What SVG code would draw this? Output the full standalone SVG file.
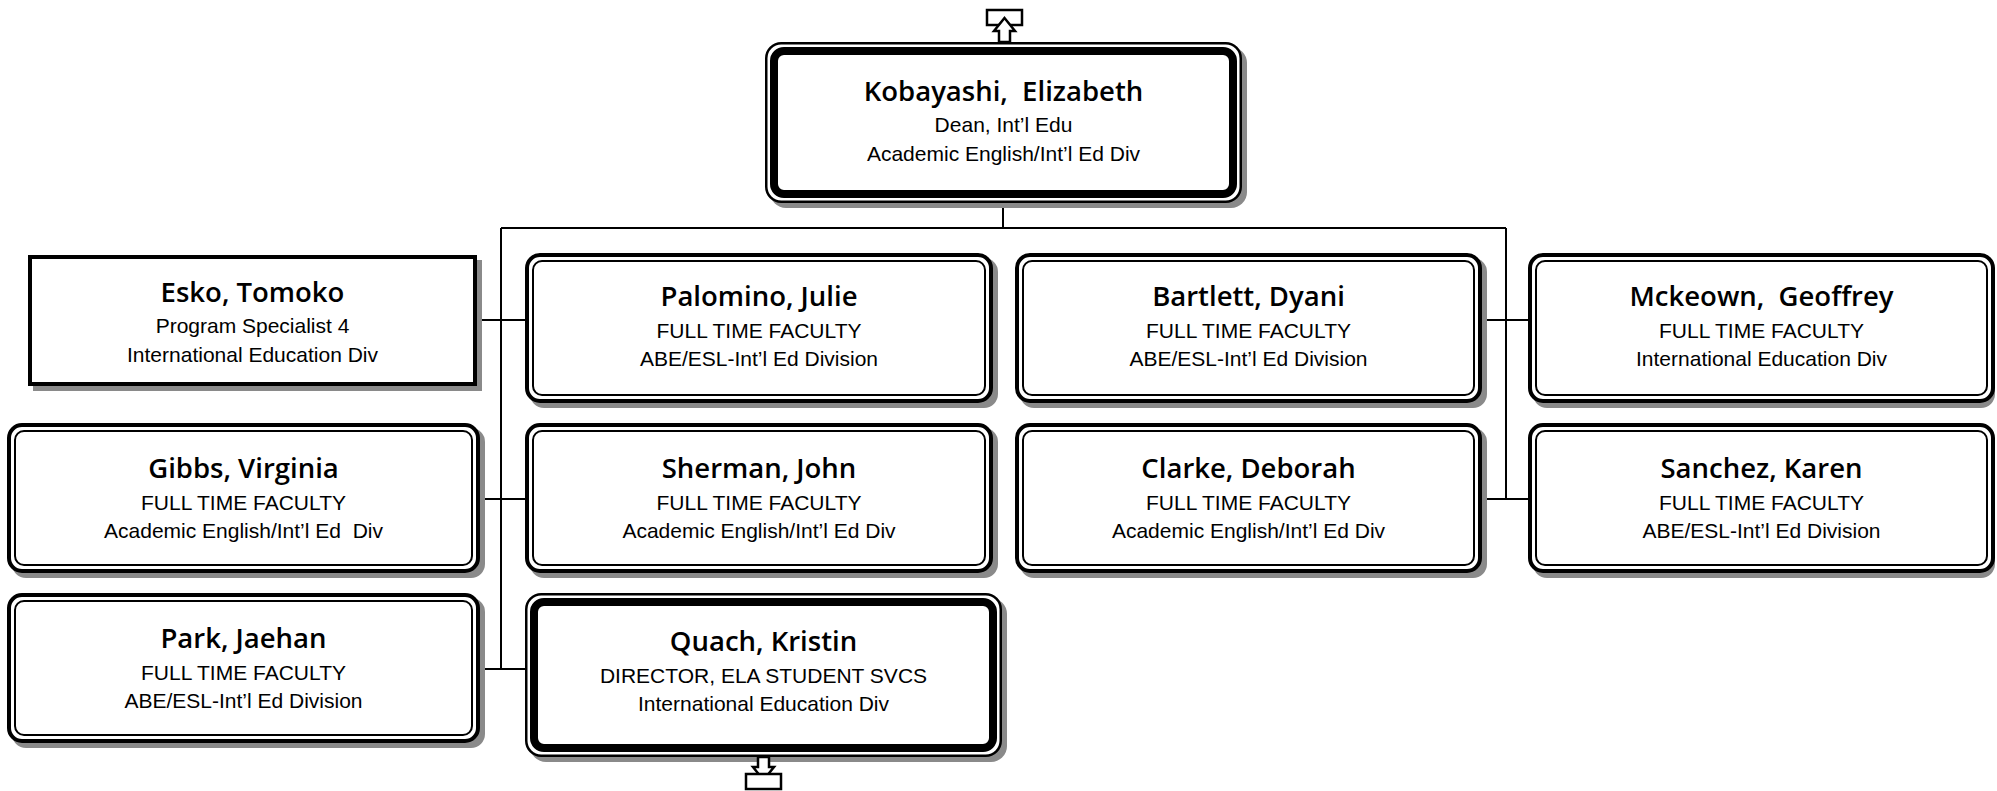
<svg xmlns="http://www.w3.org/2000/svg" width="1997" height="791" viewBox="0 0 1997 791">
<defs>
<style>
.bg{fill:#fff}
.shadow{fill:#8a8a8a}
.face{fill:#fff;stroke:#000}
.o{stroke-width:4}
.i{fill:none;stroke:#000;stroke-width:2}
.to{fill:#fff;stroke:#000;stroke-width:2.5}
.ti{fill:none;stroke:#000;stroke-width:8}
.name{font-family:"Open Sans","Liberation Sans",sans-serif;font-weight:600;font-size:27.5px;fill:#000;text-anchor:middle;white-space:pre}
.line{font-family:"Liberation Sans",Arial,sans-serif;font-size:21px;fill:#000;text-anchor:middle;white-space:pre}
.conn{stroke:#000;stroke-width:2;fill:none}
.icon{fill:#fff;stroke:#000;stroke-width:2.5;stroke-linejoin:miter}
</style>
</defs>
<rect class="bg" x="0" y="0" width="1997" height="791"/>

<g id="connectors">
<path class="conn" d="M1003 203 V228 M501 228 H1506 M501 228 V669 M1506 228 V499 M477 320 H525 M1482 320 H1528 M480 499 H525 M1482 499 H1528 M480 669 H525"/>
</g>

<g id="kobayashi">
<rect class="shadow" x="770" y="47" width="477" height="161" rx="16"/>
<rect class="to" x="766.25" y="43.25" width="474.5" height="158.5" rx="15"/>
<rect class="ti" x="774" y="51" width="459" height="143" rx="10"/>
<text class="name" x="1003.5" y="101" xml:space="preserve">Kobayashi,  Elizabeth</text>
<text class="line" x="1003.5" y="132">Dean, Int’l Edu</text>
<text class="line" x="1003.5" y="161">Academic English/Int’l Ed Div</text>
<g id="icon-up">
<rect class="icon" x="987" y="10" width="35" height="15"/>
<path class="icon" d="M1004.5 18 L1015 31 L1010 31 L1010 42 L999 42 L999 31 L994 31 Z"/>
</g>
</g>

<g id="esko">
<rect class="shadow" x="33" y="260" width="449" height="131"/>
<rect class="face o" x="30" y="257" width="445" height="127"/>
<text class="name" x="252.5" y="302">Esko, Tomoko</text>
<text class="line" x="252.5" y="333">Program Specialist 4</text>
<text class="line" x="252.5" y="362">International Education Div</text>
</g>

<g id="palomino">
<rect class="shadow" x="530" y="258" width="468" height="150" rx="14"/>
<rect class="face o" x="527" y="255" width="464" height="146" rx="13"/>
<rect class="i" x="533" y="261" width="452" height="134" rx="9"/>
<text class="name" x="759" y="306">Palomino, Julie</text>
<text class="line" x="759" y="338">FULL TIME FACULTY</text>
<text class="line" x="759" y="366">ABE/ESL-Int’l Ed Division</text>
</g>

<g id="bartlett">
<rect class="shadow" x="1020" y="258" width="467" height="150" rx="14"/>
<rect class="face o" x="1017" y="255" width="463" height="146" rx="13"/>
<rect class="i" x="1023" y="261" width="451" height="134" rx="9"/>
<text class="name" x="1248.5" y="306">Bartlett, Dyani</text>
<text class="line" x="1248.5" y="338">FULL TIME FACULTY</text>
<text class="line" x="1248.5" y="366">ABE/ESL-Int’l Ed Division</text>
</g>

<g id="mckeown">
<rect class="shadow" x="1533" y="258" width="462" height="150" rx="14"/>
<rect class="face o" x="1530" y="255" width="463" height="146" rx="13"/>
<rect class="i" x="1536" y="261" width="451" height="134" rx="9"/>
<text class="name" x="1761.5" y="306" xml:space="preserve">Mckeown,  Geoffrey</text>
<text class="line" x="1761.5" y="338">FULL TIME FACULTY</text>
<text class="line" x="1761.5" y="366">International Education Div</text>
</g>

<g id="gibbs">
<rect class="shadow" x="12" y="428" width="473" height="150" rx="14"/>
<rect class="face o" x="9" y="425" width="469" height="146" rx="13"/>
<rect class="i" x="15" y="431" width="457" height="134" rx="9"/>
<text class="name" x="243.5" y="478">Gibbs, Virginia</text>
<text class="line" x="243.5" y="510">FULL TIME FACULTY</text>
<text class="line" x="243.5" y="538" xml:space="preserve">Academic English/Int’l Ed  Div</text>
</g>

<g id="sherman">
<rect class="shadow" x="530" y="428" width="468" height="150" rx="14"/>
<rect class="face o" x="527" y="425" width="464" height="146" rx="13"/>
<rect class="i" x="533" y="431" width="452" height="134" rx="9"/>
<text class="name" x="759" y="478">Sherman, John</text>
<text class="line" x="759" y="510">FULL TIME FACULTY</text>
<text class="line" x="759" y="538">Academic English/Int’l Ed Div</text>
</g>

<g id="clarke">
<rect class="shadow" x="1020" y="428" width="467" height="150" rx="14"/>
<rect class="face o" x="1017" y="425" width="463" height="146" rx="13"/>
<rect class="i" x="1023" y="431" width="451" height="134" rx="9"/>
<text class="name" x="1248.5" y="478">Clarke, Deborah</text>
<text class="line" x="1248.5" y="510">FULL TIME FACULTY</text>
<text class="line" x="1248.5" y="538">Academic English/Int’l Ed Div</text>
</g>

<g id="sanchez">
<rect class="shadow" x="1533" y="428" width="462" height="150" rx="14"/>
<rect class="face o" x="1530" y="425" width="463" height="146" rx="13"/>
<rect class="i" x="1536" y="431" width="451" height="134" rx="9"/>
<text class="name" x="1761.5" y="478">Sanchez, Karen</text>
<text class="line" x="1761.5" y="510">FULL TIME FACULTY</text>
<text class="line" x="1761.5" y="538">ABE/ESL-Int’l Ed Division</text>
</g>

<g id="park">
<rect class="shadow" x="12" y="598" width="473" height="150" rx="14"/>
<rect class="face o" x="9" y="595" width="469" height="146" rx="13"/>
<rect class="i" x="15" y="601" width="457" height="134" rx="9"/>
<text class="name" x="243.5" y="648">Park, Jaehan</text>
<text class="line" x="243.5" y="680">FULL TIME FACULTY</text>
<text class="line" x="243.5" y="708">ABE/ESL-Int’l Ed Division</text>
</g>

<g id="quach">
<rect class="shadow" x="530" y="598" width="477" height="164" rx="16"/>
<rect class="to" x="526.25" y="594.25" width="474.5" height="161.5" rx="15"/>
<rect class="ti" x="534" y="602" width="459" height="146" rx="10"/>
<text class="name" x="763.5" y="651">Quach, Kristin</text>
<text class="line" x="763.5" y="683">DIRECTOR, ELA STUDENT SVCS</text>
<text class="line" x="763.5" y="711">International Education Div</text>
<g id="icon-down">
<path class="icon" d="M758 757 L769 757 L769 767 L774 767 L763.5 780 L753 767 L758 767 Z"/>
<rect class="icon" x="746" y="774" width="35" height="15"/>
</g>
</g>
</svg>
